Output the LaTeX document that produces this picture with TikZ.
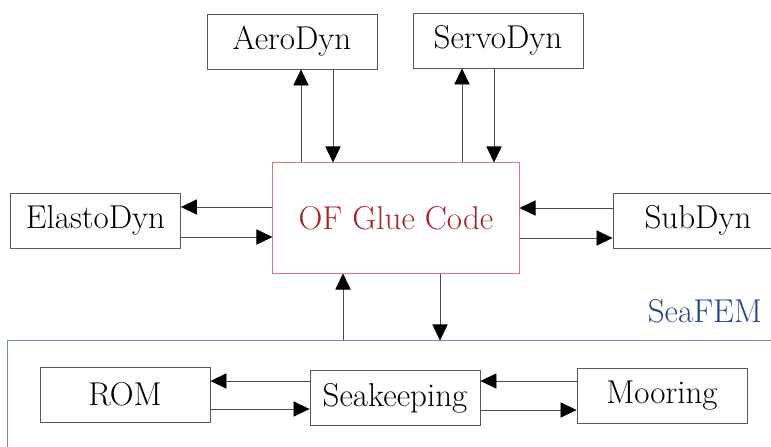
\documentclass[tikz,border=0pt]{standalone}
\usetikzlibrary{arrows.meta, calc, positioning}
\definecolor{gluered}{HTML}{A3262B}
\definecolor{glueline}{HTML}{D2777C}
\definecolor{seablue}{HTML}{24447F}
\definecolor{sealine}{HTML}{7088BC}
\tikzset{
  % modulo di OpenFAST
  module/.style={draw=black!65, line width=0.6pt, minimum width=4.25cm,
    minimum height=1.375cm, align=center, fill=white,
    font=\fontsize{23.5}{27}\selectfont},
  % codice di collegamento centrale
  gluebox/.style={module, draw=glueline, line width=0.7pt, minimum width=6.15cm,
    minimum height=2.75cm, text=gluered},
  % riquadro del solutore idrodinamico
  seaframe/.style={draw=sealine, line width=0.7pt, minimum width=19.8cm,
    minimum height=3.475cm, inner sep=0pt},
  sealbl/.style={text=seablue, font=\fontsize{23.5}{27}\selectfont, anchor=east},
  % scambio di dati tra moduli
  flow/.style={-{Triangle[length=4mm, width=3.8mm, color=black]},
    line width=0.6pt, black!70},
}

\begin{document}
\begin{tikzpicture}[x=0.025cm, y=-0.025cm]
  \useasboundingbox (0,0) rectangle (771,447);
  \clip (0,0) rectangle (771,447);
  \node[seaframe] (sea) at (404,410.5) {};
  \node[sealbl] (sealabel) at (767,311) {SeaFEM};
  \node[gluebox] (glue) at (396,218) {OF Glue Code};
  \node[module] (aero) at (292,41.5) {AeroDyn};
  \node[module] (servo) at (498,40.5) {ServoDyn};
  \node[module] (elasto) at (95.5,220.5) {ElastoDyn};
  \node[module] (subdyn) at (698,220.5) {SubDyn};
  \node[module] (rom) at (125,394.5) {ROM};
  \node[module] (seak) at (395,398) {Seakeeping};
  \node[module] (moor) at (662,395.5) {Mooring};
  % punti di aggancio delle frecce
  \coordinate (a1) at ($(aero.south)+(9,0)$);
  \coordinate (a2) at ($(aero.south)+(41,0)$);
  \coordinate (s1) at ($(servo.south)+(-36,0)$);
  \coordinate (s2) at ($(servo.south)+(-4,0)$);
  \coordinate (e1) at ($(elasto.east)+(0,-13.5)$);
  \coordinate (e2) at ($(elasto.east)+(0,16.5)$);
  \coordinate (b1) at ($(subdyn.west)+(0,-12.5)$);
  \coordinate (b2) at ($(subdyn.west)+(0,17.5)$);
  \coordinate (g1) at ($(glue.south)+(-53,0)$);
  \coordinate (g2) at ($(glue.south)+(44,0)$);
  \coordinate (r1) at ($(rom.east)+(0,-13.5)$);
  \coordinate (r2) at ($(rom.east)+(0,14.5)$);
  \coordinate (m1) at ($(moor.west)+(0,-14.5)$);
  \coordinate (m2) at ($(moor.west)+(0,14.5)$);
  \draw[flow] (glue.north -| a1) -- (a1);
  \draw[flow] (a2) -- (glue.north -| a2);
  \draw[flow] (glue.north -| s1) -- (s1);
  \draw[flow] (s2) -- (glue.north -| s2);
  \draw[flow] (glue.west |- e1) -- (e1);
  \draw[flow] (e2) -- (glue.west |- e2);
  \draw[flow] (b1) -- (glue.east |- b1);
  \draw[flow] (glue.east |- b2) -- (b2);
  \draw[flow] (sea.north -| g1) -- (g1);
  \draw[flow] (g2) -- (sea.north -| g2);
  \draw[flow] (seak.west |- r1) -- (r1);
  \draw[flow] (r2) -- (seak.west |- r2);
  \draw[flow] (m1) -- (seak.east |- m1);
  \draw[flow] (seak.east |- m2) -- (m2);
\end{tikzpicture}
\end{document}
